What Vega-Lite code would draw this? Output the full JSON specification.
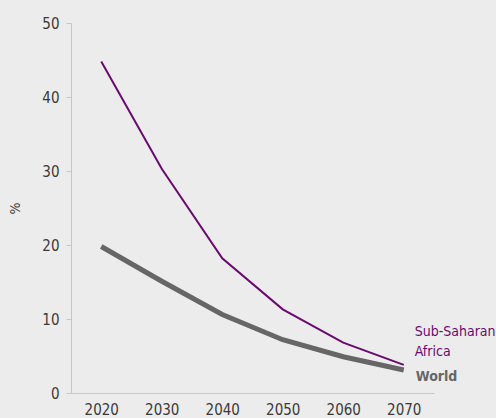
{
  "$schema": "https://vega.github.io/schema/vega-lite/v6.json",
  "autosize": {"type": "none"},
  "width": 363,
  "height": 370,
  "padding": {"left": 71, "top": 23, "right": 62, "bottom": 25},
  "background": "#ebeceb",
  "config": {
    "view": {"stroke": null},
    "font": "DejaVu Sans Condensed, Noto Sans, sans-serif",
    "axis": {"labelFont": "DejaVu Sans Condensed, Noto Sans, sans-serif", "titleFont": "DejaVu Sans Condensed, Noto Sans, sans-serif", "labelColor": "#3a3a3a", "titleColor": "#3a3a3a", "domainColor": "#c6c8c6", "tickColor": "#c6c8c6", "grid": false}
  },
  "datasets": {
    "series": [
      {"year": 2020, "series": "Sub-Saharan Africa", "value": 44.8},
      {"year": 2030, "series": "Sub-Saharan Africa", "value": 30.3},
      {"year": 2040, "series": "Sub-Saharan Africa", "value": 18.2},
      {"year": 2050, "series": "Sub-Saharan Africa", "value": 11.3},
      {"year": 2060, "series": "Sub-Saharan Africa", "value": 6.8},
      {"year": 2070, "series": "Sub-Saharan Africa", "value": 3.8},
      {"year": 2020, "series": "World", "value": 19.8},
      {"year": 2030, "series": "World", "value": 15.1},
      {"year": 2040, "series": "World", "value": 10.6},
      {"year": 2050, "series": "World", "value": 7.2},
      {"year": 2060, "series": "World", "value": 4.9},
      {"year": 2070, "series": "World", "value": 3.1}
    ]
  },
  "data": {"name": "series"},
  "layer": [
    {
      "mark": {"type": "line", "strokeJoin": "miter"},
      "encoding": {
        "x": {"field": "year", "type": "quantitative", "scale": {"domain": [2015, 2075], "nice": false, "zero": false},
              "axis": {"values": [2020, 2030, 2040, 2050, 2060, 2070], "format": "d", "ticks": false, "labelPadding": 9, "labelFontSize": 15, "title": null}},
        "y": {"field": "value", "type": "quantitative", "scale": {"domain": [0, 50], "nice": false},
              "axis": {"values": [0, 10, 20, 30, 40, 50], "tickSize": 5, "labelPadding": 7, "labelFontSize": 15, "title": "%", "titleFontSize": 14, "titleFontWeight": "normal", "titleX": -56, "titleY": 185, "titleAngle": -90, "titleBaseline": "middle", "titleAlign": "center"}},
        "color": {"field": "series", "type": "nominal", "scale": {"domain": ["Sub-Saharan Africa", "World"], "range": ["#6a0a70", "#666666"]}, "legend": null},
        "strokeWidth": {"field": "series", "type": "nominal", "scale": {"domain": ["Sub-Saharan Africa", "World"], "range": [2, 5]}, "legend": null}
      }
    },
    {
      "transform": [{"filter": "datum.year == 2070 && datum.series == 'Sub-Saharan Africa'"}],
      "mark": {"type": "text", "align": "left", "baseline": "middle", "dx": 11, "dy": -33, "fontSize": 14, "lineHeight": 20, "lineBreak": "\n", "color": "#6a0a70"},
      "encoding": {
        "x": {"field": "year", "type": "quantitative"},
        "y": {"field": "value", "type": "quantitative"},
        "text": {"value": "Sub-Saharan\nAfrica"}
      }
    },
    {
      "transform": [{"filter": "datum.year == 2070 && datum.series == 'World'"}],
      "mark": {"type": "text", "align": "left", "baseline": "middle", "dx": 12, "dy": 7, "fontSize": 14, "fontWeight": "bold", "color": "#666666"},
      "encoding": {
        "x": {"field": "year", "type": "quantitative"},
        "y": {"field": "value", "type": "quantitative"},
        "text": {"value": "World"}
      }
    }
  ]
}
